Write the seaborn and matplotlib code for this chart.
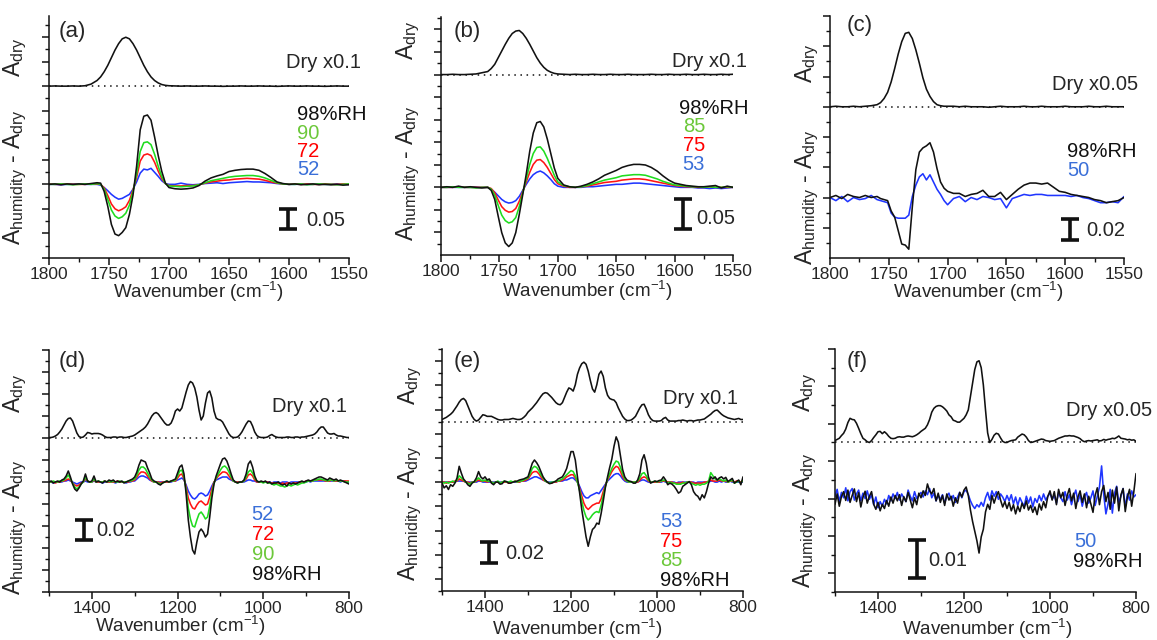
import numpy as np
import pandas as pd
import matplotlib
matplotlib.use("Agg")
import matplotlib.pyplot as plt
from matplotlib.ticker import MultipleLocator
import seaborn as sns

sns.set_theme(style="ticks")
plt.rcParams["font.family"] = ["Liberation Sans", "DejaVu Sans"]
plt.rcParams["axes.linewidth"] = 1.1

# ---------------------------------------------------------------- data
# All absorbance values in milli-absorbance units (mA); dry spectra are the
# scaled curves as displayed ("Dry x0.1" / "Dry x0.05").

# C=O region, 1800-1550 cm-1
WN_TOP = [1800, 1795, 1790, 1785, 1780, 1775, 1770, 1765,
          1760, 1757, 1754, 1751, 1748, 1745, 1742, 1739, 1736, 1733, 1730,
          1727, 1724, 1721, 1718, 1715, 1712, 1709, 1706, 1703, 1700,
          1695, 1690, 1685, 1680, 1675, 1670, 1665, 1660, 1655, 1650,
          1645, 1640, 1635, 1630, 1625, 1620, 1615, 1610, 1605, 1600,
          1595, 1590, 1585, 1580, 1575, 1570, 1565, 1560, 1555, 1550]

A_DRY = [0, 0.5, 0, 0, 0.5, 0, 1, 5,
         14, 23, 36, 52, 71, 90, 106, 118, 122, 118, 106,
         90, 71, 52, 36, 23, 14, 8, 4, 2, 1,
         0.5, 0, 0.5, 0, 0, 0.5, 0, 0, -0.5, 0,
         0, 0.5, 0, 0, 0.5, 0, 0, -0.5, 0, 0.5,
         0, 0, 0.5, 0, 0, -0.5, 0, 0.5, 0, 0]
A_98 = [0, 1, -1, 1, 0, 1, 0, 2,
        4, 3, -18, -55, -100, -124, -128, -120, -108, -75, -27,
        45, 136, 170, 173, 160, 118, 72, 32, 3, -8,
        -11, -12, -11, -9, -3, 8, 16, 21, 25, 32,
        35, 37, 38, 38, 35, 27, 17, 6, 2, 0,
        1, -1, 0, 1, -1, 0, -1, 0, -2, -1]
A_90 = [0, 0, 1, 0, -1, 0, 1, 0,
        2, 0, -12, -38, -64, -79, -85, -81, -72, -52, -18,
        25, 82, 104, 106, 99, 75, 45, 19, 2, -4,
        -5, -6, -5, -4, -1, 4, 9, 12, 15, 18,
        20, 21, 22, 22, 20, 16, 10, 4, 1, 0,
        0, 1, -1, 0, 1, 0, 0, -1, 0, 1]
A_72 = [1, 0, 0, 1, 0, 0, 0, 1,
        1, 0, -9, -28, -49, -61, -66, -62, -56, -40, -14,
        17, 58, 73, 76, 72, 55, 33, 14, 2, -3,
        -4, -4, -3, -3, -1, 3, 6, 8, 10, 11,
        13, 14, 15, 14, 13, 10, 6, 3, 1, 0,
        1, 0, 1, 0, 0, 1, 0, 0, 1, 0]
A_52 = [0, 0, -1, 0, 0, 1, 0, 0,
        0, -2, -8, -16, -25, -32, -37, -35, -30, -25, -12,
        6, 28, 38, 36, 40, 30, 20, 9, 2, 0,
        0, 3, 0, -1, 0, 2, 3, 4, 2, 4,
        5, 6, 7, 6, 6, 5, 4, 2, 1, 0,
        0, 1, 0, 0, 1, 0, 0, 1, 0, 0]

B_DRY = [0, 0, 0.5, 0, 0, 0.5, 1, 3,
         5, 10, 17, 28, 39, 50, 60, 68, 72, 73, 68,
         60, 50, 39, 28, 19, 12, 7, 4, 2, 1,
         0.5, 0, 0.5, 0, 0, 0.5, 0, 0, 0.5, 0,
         0, 0.5, 0, 0, 0, 0.5, 0, 0, 0.5, 0,
         0, 0.5, 0, 0, 0.5, 0, 0, 0.5, 0, 0.5]
B_98 = [0, 1, 0, 2, 0, 1, 0, -1,
        0, -5, -20, -48, -75, -92, -98, -92, -75, -45, -12,
        22, 60, 90, 107, 109, 100, 80, 56, 32, 15,
        4, 1, 0, 2, 5, 9, 14, 20, 24, 28,
        33, 36, 38, 38, 37, 33, 27, 19, 12, 7,
        5, 3, 2, 1, 1, 2, 3, -1, 2, 0]
B_85 = [0, 0, 1, 0, 0, 0, -1, 0,
        0, -3, -13, -30, -46, -55, -59, -57, -50, -32, -9,
        14, 38, 56, 66, 67, 60, 48, 34, 20, 9,
        3, 1, 0, 1, 3, 6, 9, 12, 14, 16,
        19, 20, 21, 21, 20, 17, 14, 10, 7, 4,
        3, 2, 1, 1, 0, 1, 0, 0, 1, 0]
B_75 = [0, 0, 0, 1, 0, 0, 0, 0,
        0, -2, -9, -21, -32, -38, -41, -40, -35, -23, -7,
        9, 25, 38, 45, 46, 41, 33, 23, 13, 6,
        2, 0, 0, 1, 2, 4, 6, 8, 9, 10,
        12, 13, 14, 14, 13, 11, 9, 7, 5, 3,
        2, 1, 1, 0, 0, 1, 0, 0, 0, 0]
B_53 = [0, 0, 0, 0, 0, 0, 0, 0,
        0, -3, -8, -14, -20, -24, -26, -25, -22, -15, -5,
        5, 14, 21, 25, 27, 24, 19, 13, 6, 2,
        0, 0, 0, 0, 1, 1, 2, 3, 4, 5,
        5, 6, 7, 7, 6, 5, 4, 3, 2, 1,
        0, 0, 0, -1, -1, -2, -1, -2, -1, 0]

C_DRY = [0, 0.5, 0, 0, 0.5, 0, 0.5, 1,
         2, 4, 8, 14, 24, 37, 51, 63, 71, 72, 66,
         55, 42, 28, 17, 10, 5, 2, 1, 0.5, 0.5,
         0.5, 0, 0.5, 0, 0, 0, -0.5, 0, 0.5, 0,
         0, 0, 0.5, 0, 0, 0.5, 0, 0, 0, 0.5,
         0, 0, 0, 0.5, 0, 0, 0.5, 0, 0, 0]
C_98 = [0, 2, -1, 3, 1, 0, 2, 0,
        1, -1, -2, -3, -13, -19, -32, -45, -46, -50, -9,
        27, 44, 48, 50, 53, 44, 28, 15, 9, 6,
        4, 4, 1, 3, 4, 7, 1, 1, 5, -2,
        3, 8, 12, 14, 14, 13, 14, 10, 6, 5,
        3, 2, 1, 0, -2, -3, -5, -4, -3, 0]
C_50 = [0, -3, 1, -4, 0, -2, -1, 2,
        -2, -3, -4, -5, -15, -19, -20, -20, -20, -17, 1,
        12, 20, 23, 17, 22, 15, 8, 3, -3, -7,
        -1, 1, -4, 0, -2, 1, 0, -2, -1, -10,
        -1, 1, 3, 2, 3, 3, 2, 2, 2, 2,
        1, 2, 0, -1, -3, -5, -5, -4, -5, 1]

# Fingerprint region, 1500-800 cm-1, sampled every 5 cm-1
WN_BOT = np.arange(1500, 799, -5)

D_DRY = [0.5, 0.5, 1, 2, 3.5, 6, 9, 13, 17, 19.5,
         20, 17, 11, 5, 1.5, 0.5, 1, 3, 5.5, 5,
         4, 4.5, 4.5, 4.5, 4, 3, 1.5, 0.5, 0.5, 0.5,
         1, 1, 0.5, 1, 1, 0.5, 0.5, 1, 1.5, 2,
         3, 4.5, 6, 7.5, 9, 11, 14, 18, 22, 24.5,
         25.5, 24, 21, 18, 15, 13, 13, 15, 20, 27,
         29, 27, 30, 38, 46, 53, 56.5, 55, 50, 41,
         28, 18, 22, 35, 45, 47, 40, 27, 20, 18.5,
         18, 16, 12, 8, 4, 1.5, 0.5, 0.5, 1, 3,
         6, 10, 14, 17, 16.5, 12, 6, 2.5, 1, 0.5,
         0.5, 0.5, 1, 2.5, 3.5, 2, 1, 0.5, 0.5, 0.5,
         0.5, 1, 1, 0.5, 0.5, 1, 1, 0.5, 1, 1,
         1.5, 2, 2.5, 3, 4, 6, 9, 11, 11, 8,
         5, 4, 4, 4.5, 3, 2, 2, 1.5, 1, 0.5,
         0.5]
D_98 = [0, 1, -1, 0, 1, 0, 2, 3, 6, 11,
        5, -2, -7, -9, -6, -2, 1, 8, 1, 0,
        1, 6, 0, 1, 0, -1, 1, 0, 2, 1,
        2, 0, 1, 0, 1, -1, 0, 1, 2, 3,
        5, 10, 17, 22, 21, 20, 14, 9, 3, 1,
        0, -2, -3, -1, 0, 1, 0, 1, 2, 3,
        9, 15, 17, 8, -12, -38, -55, -68, -72, -60,
        -50, -47, -50, -55, -52, -35, -16, -2, 6, 12,
        18, 23, 24, 21, 15, 8, 2, 0, -1, 0,
        0, 2, 8, 18, 21, 15, 6, 1, 0, 1,
        0, 1, -1, 0, -2, -1, -1, 0, -2, -3,
        -2, -4, -1, -2, -1, -2, -1, 0, 1, 0,
        1, 2, 1, 2, 3, 4, 5, 5, 4, 3,
        2, 4, 3, 2, 3, 1, 2, 1, 0, -1,
        -2]
D_90 = [0, 0, 1, 0, 0, 1, 1, 2, 4, 7,
        3, -1, -5, -7, -5, -2, 0, 5, 1, 0,
        0, 3, 0, 1, 0, 0, 1, 0, 1, 0,
        1, 0, 0, 1, 0, 0, 0, 1, 1, 2,
        3, 7, 12, 15, 15, 13, 9, 5, 2, 0,
        0, -1, -2, -1, 0, 1, 0, 1, 1, 2,
        6, 11, 12, 5, -8, -26, -37, -44, -45, -38,
        -32, -30, -33, -37, -35, -24, -11, -1, 4, 8,
        12, 15, 16, 14, 10, 5, 1, 0, -1, 0,
        0, 1, 5, 10, 12, 9, 4, 1, 0, 0,
        -1, 0, -1, -1, -2, -3, -2, -3, -4, -4,
        -5, -4, -3, -4, -3, -2, -3, -2, -1, -1,
        0, 1, 1, 1, 2, 2, 3, 3, 2, 2,
        1, 2, 2, 1, 2, 1, 1, 1, 0, 0,
        0]
D_72 = [0, 0, 0, -1, 0, 0, 1, 1, 2, 3,
        2, -1, -3, -4, -3, -1, 0, 3, 1, 0,
        0, 2, 0, 0, 0, 0, 1, 0, 0, 0,
        0, 0, 1, 0, 0, 0, 0, 0, 1, 1,
        2, 5, 8, 10, 10, 9, 6, 3, 1, 0,
        0, 0, -1, 0, 0, 0, 0, 1, 1, 1,
        4, 7, 8, 3, -5, -16, -22, -26, -27, -23,
        -20, -19, -21, -23, -22, -15, -7, 0, 3, 6,
        8, 10, 10, 9, 6, 3, 1, 0, 0, 0,
        0, 1, 3, 7, 8, 6, 2, 0, 0, 0,
        0, 0, 0, -1, -1, -1, -1, -1, -2, -1,
        -2, -1, -1, -2, -1, -1, -1, 0, 0, 0,
        1, 1, 1, 1, 2, 2, 2, 2, 2, 1,
        1, 1, 2, 1, 1, 1, 1, 1, 1, 1,
        1]
D_52 = [0, 0, -1, 0, 0, 0, 0, 1, 1, 2,
        1, 0, -1, -2, -1, 0, 0, 1, 0, 0,
        0, 1, 0, 0, 0, -1, 0, 0, 0, 0,
        0, -1, 0, 0, 0, 0, -1, 0, 0, 1,
        1, 3, 5, 6, 6, 5, 4, 2, 1, 0,
        0, 0, 0, 0, 0, 0, 0, 0, 1, 1,
        2, 3, 4, 2, -3, -9, -13, -16, -17, -15,
        -12, -11, -12, -14, -13, -9, -4, 0, 2, 3,
        4, 5, 5, 5, 3, 2, 1, 0, 0, 0,
        0, 0, 1, 2, 2, 1, 1, 0, 0, 0,
        0, 0, 0, 0, -1, 0, 0, 0, -1, 0,
        0, 0, -1, 0, 0, 0, 0, 0, 0, 0,
        0, 1, 0, 1, 1, 1, 1, 1, 1, 1,
        1, 1, 1, 1, 1, 1, 0, 1, 1, 0,
        0]

E_DRY = [2, 3, 4, 5.5, 7, 9, 12, 15, 18.5, 21,
         22, 20, 15, 10, 5, 2, 0.5, 1.5, 4, 6.5,
         6, 5, 5, 5, 4, 3, 2, 1.5, 1.5, 2,
         2, 2, 2.5, 3, 2.5, 2, 2, 2.5, 4, 6,
         9, 11, 13, 15.5, 18, 21, 24, 26.5, 27.5, 27,
         25, 23, 20.5, 18, 16.5, 16, 18, 23, 28, 32,
         31, 29, 35, 45, 51, 55, 56.5, 54.5, 48, 39,
         31, 28, 35, 45, 48, 43, 32, 25, 22, 21,
         20.5, 18, 13, 9, 5, 2.5, 1, 1, 1.5, 3,
         5, 9, 13, 16, 16.5, 12, 6.5, 3, 1, 0.5,
         0.5, 0.5, 1, 3, 4, 1.5, 0.5, 0.5, 0.5, 0.5,
         1, 1, 1.5, 1, 0.5, 1, 1, 0.5, 1, 1.5,
         1.5, 2, 2.5, 4, 5.5, 7, 9, 10.5, 11, 9,
         7, 5.5, 4.5, 3.5, 3, 2.5, 2, 2.5, 3, 2,
         2]
E_98 = [-1, -5.5, -3.5, -7, -2.5, -4, -1, 4, 15, 8.5,
        3, 0.5, -2.5, -4, -1, 0.5, 4, 10, 5, 3,
        5, 2, 3, -1, -2.5, 0, 0, -2, -1.5, 1,
        0.5, -1, -1, 0, 0.5, 1, 2, 2.5, 3, 4,
        5, 11.5, 18, 21, 18.5, 15, 10, 5, 2, 0,
        -1.5, -1, 0, 1, 3, 4, 5, 8.5, 13, 21,
        29, 29, 21, 5, -10, -26, -39, -52, -61, -52,
        -45, -43, -39, -40, -30, -18, -5, 5, 14, 22,
        34, 43, 38, 25, 12, 5, 2, 1, 0.5, -1,
        -1, 2, 8, 21, 26, 18, 5, -1, 0, 1,
        0.5, 1.5, 2, 5, 2, -2.5, -1, -2, -4, -7,
        -10.5, -9, -4, -2.5, -1, 0.5, -2.5, -9, -12, -13.5,
        -17, -12, -15, -9, -1, 5, 3, 5, 2, 4,
        5, 3, 4.5, 0.5, 2, 3.5, -1, 0.5, 2, -2.5,
        5]
E_85 = [0, -1, 0, -1, 0, 1, 0, 2, 6, 4,
        2, 0, -1, -2, 0, 0, 2, 4, 2, 1,
        2, 1, 1, 0, -1, 0, 1, -1, 0, 1,
        0, 0, 1, 0, 1, 0, 1, 1, 2, 3,
        4, 8, 13, 15, 14, 11, 7, 4, 1, 0,
        -1, 0, 0, 1, 1, 2, 3, 5, 7, 9,
        11, 10, 6, 0, -8, -18, -27, -33, -36, -34,
        -31, -29, -28, -29, -22, -13, -4, 3, 8, 13,
        17, 20, 19, 14, 8, 3, 1, 0, 0, 0,
        0, 1, 4, 8, 9, 6, 2, 0, 0, 1,
        0, 1, 1, 2, 1, -1, 0, -1, -1, -2,
        -2, -2, -1, -1, 0, 0, -1, -2, -3, -2,
        -3, -2, -2, -1, 1, 9, 6, 3, 2, 3,
        2, 1, 2, 0, 1, 2, -1, 0, 1, -1,
        2]
E_75 = [0, 0, -1, 0, 0, 0, 1, 1, 3, 2,
        1, 0, 0, -1, 0, 0, 1, 2, 1, 1,
        1, 0, 1, 0, -1, 0, 0, -1, 0, 0,
        0, -1, 0, 0, 1, 0, 0, 1, 1, 2,
        3, 6, 9, 10, 10, 8, 5, 2, 1, 0,
        -1, -1, 0, 0, 1, 1, 2, 3, 5, 6,
        7, 7, 4, 0, -6, -13, -20, -24, -26, -24,
        -22, -21, -20, -20, -16, -9, -3, 2, 6, 10,
        13, 15, 14, 10, 5, 2, 1, 0, 0, 0,
        0, 0, 2, 4, 5, 4, 1, 0, 0, 0,
        0, 0, 1, 1, 1, 0, 0, 0, -1, -1,
        -1, -1, 0, -1, 0, 0, 0, -1, -1, -1,
        -1, -1, 0, 0, 1, 2, 1, 1, 1, 2,
        1, 1, 1, 0, 1, 1, 0, 1, 1, 0,
        1]
E_53 = [0, 0, 0, 0, 0, 0, 0, 1, 1, 1,
        1, 0, 0, 0, 0, 0, 0, 1, 1, 0,
        0, 0, 0, 0, 0, 0, 0, 0, 0, 0,
        0, 0, 0, 0, 0, 0, 0, 1, 1, 1,
        2, 3, 4, 5, 5, 4, 3, 2, 1, 0,
        0, 0, 0, 0, 1, 1, 1, 2, 2, 3,
        4, 4, 2, 0, -4, -9, -13, -15, -15, -13,
        -12, -11, -10, -11, -8, -5, -2, 1, 3, 5,
        7, 8, 8, 6, 3, 1, 0, 0, 0, 0,
        0, 0, 1, 2, 2, 1, 0, 0, 0, 0,
        0, 0, 0, 1, 0, 0, 0, 0, 0, -1,
        0, 0, 0, 0, 0, 0, 0, 0, -1, 0,
        0, 0, 0, 0, 0, 1, 1, 0, 0, 1,
        0, 1, 0, 0, 1, 0, 0, 0, 0, 0,
        0]

F_DRY = [0.5, 0.8, 1.1, 1.8, 2.4, 3.5, 5.2, 6.3, 6.0, 5.9,
         5.0, 3.7, 2.3, 1.1, 0.7, 0.2, 0.0, 0.5, 1.3, 2.0,
         2.8, 2.9, 2.3, 2.8, 2.3, 1.6, 1.1, 1.0, 1.1, 1.4,
         1.5, 1.4, 1.4, 1.6, 1.7, 1.6, 1.5, 1.7, 2.0, 2.4,
         2.9, 3.3, 3.7, 4.6, 6.0, 7.9, 8.9, 9.4, 9.6, 9.6,
         9.3, 8.8, 8.2, 7.2, 6.7, 5.8, 5.6, 5.3, 5.3, 5.8,
         6.3, 7.2, 8.5, 12.0, 15.5, 19.0, 21.0, 21.3, 19.5, 15.0,
         8.5, 2.5, 0.0, 0.8, 1.9, 2.4, 2.2, 1.2, 0.3, 0.0,
         0.0, 0.3, 0.5, 0.6, 0.7, 1.4, 1.8, 2.2, 2.0, 1.4,
         0.5, 0.0, 0.1, 0.3, 0.5, 0.7, 0.9, 0.8, 0.5, 0.4,
         0.3, 0.4, 0.5, 0.8, 1.1, 1.3, 1.5, 1.7, 1.7, 1.8,
         1.7, 1.7, 1.5, 1.3, 1.0, 0.5, 0.2, 0.4, 0.5, 0.4,
         0.5, 0.6, 0.7, 0.4, 0.5, 0.8, 0.6, 0.8, 0.9, 1.1,
         1.0, 1.3, 1.7, 1.1, 1.0, 0.9, 0.7, 0.8, 0.6, 0.7,
         0.3]
F_98 = [-1.5, 1.2, -2.0, 0.5, 1.8, -0.5, 2.2, -1.0, 0.8, 2.5,
        -0.8, 1.5, -2.2, 0.3, 1.9, -1.2, 0.6, 1.8, -1.5, -2.8,
        -1.0, -3.2, -1.5, -2.6, -0.5, -2.0, 0.4, -1.2, 0.8, -0.6,
        1.0, -1.8, 0.5, -0.8, 1.6, -0.4, -2.4, 0.2, -1.6, 1.4,
        0.2, 2.0, 0.8, 3.8, 2.0, 1.2, 2.6, -0.6, 1.4, -1.0,
        0.8, -1.8, 1.2, -0.4, 0.6, -2.0, 0.2, -1.2, 1.6, 0.4,
        2.2, 3.0, 0.8, -3.0, -6.0, -8.5, -11.0, -14.2, -10.0, -8.0,
        -3.5, -1.5, -2.8, 0.8, -1.2, 0.6, 1.8, -0.4, -2.2, -0.8,
        -2.6, -1.0, -3.2, -1.6, -4.0, -2.0, -3.4, -1.2, -2.6, -0.6,
        -3.0, -1.8, -3.6, -2.2, -4.2, -1.4, -3.0, -0.8, -2.4, 0.6,
        2.0, -0.4, 1.8, -1.6, 2.4, 0.2, 1.6, -1.8, 0.8, 2.6,
        -0.6, 1.4, -2.6, 0.4, 2.0, -1.0, 1.2, -2.4, 0.6, -1.4,
        -3.6, 0.8, 2.8, -1.6, 1.8, 3.4, -0.8, 1.6, -2.8, 2.2,
        -1.2, 3.0, -3.2, 1.0, 2.6, -3.4, 0.4, 2.4, -2.0, 1.8,
        6.5]
F_50 = [0.5, 2.4, -0.8, 1.6, 0.2, 2.8, -0.6, 1.8, 2.6, -0.4,
        1.2, 2.2, -0.6, 1.4, 0.0, 2.0, -0.2, 1.0, -1.6, 0.4,
        -2.4, -0.8, -2.0, -0.2, -1.4, 0.8, -0.6, 1.2, 0.0, 1.6,
        -0.4, 1.2, 0.2, -0.8, 2.2, 0.6, -0.6, 1.8, 0.0, 0.8,
        1.6, 0.4, 2.0, 1.0, 2.6, 0.2, 1.4, -0.6, 0.8, -0.2,
        1.0, -1.2, 0.6, 1.4, -0.4, 0.8, -1.0, 0.4, 1.6, 0.2,
        1.8, 2.2, 1.0, -0.6, -1.8, -2.6, -1.6, -2.2, -1.0, -2.0,
        0.2, 1.6, -0.4, 2.0, 0.6, 1.8, -0.2, 1.2, 0.4, -0.8,
        0.8, -0.6, 1.0, -1.4, 0.4, -1.8, 0.2, -1.0, -2.0, 0.6,
        -1.2, 0.4, -2.2, 0.0, -1.0, 0.8, -0.6, 1.2, -0.4, 0.6,
        1.4, -0.2, 0.8, -1.2, 1.6, 0.2, -0.8, 1.8, -0.4, 1.0,
        -1.6, 0.6, 2.2, -0.8, 1.0, -2.0, 0.4, 1.6, -1.2, 0.2,
        2.0, -1.8, 0.6, 3.0, 8.5, 1.0, -4.0, -1.4, 2.4, -3.8,
        1.4, 3.2, -1.0, 0.6, 2.6, -2.2, 1.2, -0.4, 2.0, 0.4,
        1.0]

# ---------------------------------------------------------------- style
W, H = 1157, 640
BLACK = "#111111"
GREEN, GREEN_TXT = "#1fdc1f", "#6cc83a"
RED, RED_TXT = "#ff1414", "#ff0000"
BLUE, BLUE_TXT = "#2036ff", "#3a6fd8"
LW = 1.15

fig = plt.figure(figsize=(W / 100, H / 100), dpi=100)


def add_panel(x0, x1, ytop, ybot):
    return fig.add_axes([x0 / W, 1 - ybot / H, (x1 - x0) / W, (ybot - ytop) / H])


def px_to_data(ax, px, py):
    return ax.transData.inverted().transform((px, H - py))


def ftext(px, py, s, **kw):
    kw.setdefault("fontsize", 14.5)
    kw.setdefault("va", "center")
    fig.text(px / W, 1 - py / H, s, **kw)


def draw_panel(ax, wn, dry, traces, offset, xlim, ylim, xmaj, xmin, ystep):
    sns.lineplot(x=wn, y=np.asarray(dry, float) + offset, color=BLACK,
                 linewidth=LW, ax=ax, estimator=None)
    ax.axhline(offset, color=BLACK, linewidth=1.1, linestyle=(0, (1, 3)))
    for vals, col in traces:
        sns.lineplot(x=wn, y=vals, color=col, linewidth=LW, ax=ax,
                     estimator=None)
    ax.set_xlim(*xlim)
    ax.set_ylim(*ylim)
    sns.despine(ax=ax)
    ax.xaxis.set_major_locator(MultipleLocator(xmaj))
    ax.xaxis.set_minor_locator(MultipleLocator(xmin))
    ax.yaxis.set_major_locator(MultipleLocator(2 * ystep))
    ax.yaxis.set_minor_locator(MultipleLocator(ystep))
    ax.tick_params(axis="both", which="major", direction="out", length=5,
                   width=1.1, color=BLACK, labelsize=12.5, pad=1.5)
    ax.tick_params(axis="both", which="minor", direction="out", length=3,
                   width=1.0, color=BLACK)
    ax.tick_params(axis="y", labelleft=False)
    for sp in ("left", "bottom"):
        ax.spines[sp].set_color(BLACK)
    ax.set_xlabel("")
    ax.set_ylabel("")


def scale_bar(ax, px, py, value, label, lx, ly):
    xc, yc = px_to_data(ax, px, py)
    ax.errorbar([xc], [yc], yerr=value / 2, fmt="none", ecolor=BLACK,
                elinewidth=2.6, capsize=6.5, capthick=2.6)
    ftext(lx, ly, label, ha="left")


def axis_labels(xc, xl_base, yx, ydry_y, yhum_y):
    ftext(xc, xl_base, "Wavenumber (cm$\\mathregular{^{-1}}$)", ha="center",
          va="baseline", fontsize=13.5)
    ftext(yx, ydry_y, "$\\mathregular{A_{dry}}$", ha="center", rotation=90,
          fontsize=16.5)
    ftext(yx, yhum_y,
          "$\\mathregular{A_{humidity}}$ - $\\mathregular{A_{dry}}$",
          ha="center", rotation=90, fontsize=16.5)


# ---------------------------------------------------------------- (a)
ax = add_panel(49, 349, 16, 258)
draw_panel(ax, WN_TOP, A_DRY, [(A_52, BLUE), (A_72, RED), (A_90, GREEN),
                               (A_98, BLACK)],
           offset=245, xlim=(1800, 1550), ylim=(-183.75, 420),
           xmaj=50, xmin=25, ystep=30.625)
scale_bar(ax, 288, 219.3, 50, "0.05", 306, 220)
ftext(59, 31, "(a)", fontsize=16)
ftext(361, 63, "Dry x0.1", ha="right")
ftext(367, 115, "98%RH", ha="right", color=BLACK)
ftext(297, 133.3, "90", ha="left", color=GREEN_TXT)
ftext(297, 151.6, "72", ha="left", color=RED_TXT)
ftext(297, 169.9, "52", ha="left", color=BLUE_TXT)
axis_labels(198, 298, 15, 57, 177)

# ---------------------------------------------------------------- (b)
ax = add_panel(441, 733, 17, 255)
draw_panel(ax, WN_TOP, B_DRY, [(B_53, BLUE), (B_75, RED), (B_85, GREEN),
                               (B_98, BLACK)],
           offset=186.7, xlim=(1800, 1550), ylim=(-112, 282),
           xmaj=50, xmin=25, ystep=18.67)
scale_bar(ax, 683, 214.3, 50, "0.05", 696, 218.3)
ftext(454, 31, "(b)", fontsize=16)
ftext(747, 61.7, "Dry x0.1", ha="right")
ftext(748, 108.3, "98%RH", ha="right", color=BLACK)
ftext(682.7, 127, "85", ha="left", color=GREEN_TXT)
ftext(682.7, 145.5, "75", ha="left", color=RED_TXT)
ftext(682.7, 164, "53", ha="left", color=BLUE_TXT)
axis_labels(587, 297, 408, 40, 173)

# ---------------------------------------------------------------- (c)
ax = add_panel(830, 1124, 16, 258)
draw_panel(ax, WN_TOP, C_DRY, [(C_50, BLUE), (C_98, BLACK)],
           offset=87.8, xlim=(1800, 1550), ylim=(-58.5, 175.6),
           xmaj=50, xmin=25, ystep=14.63)
scale_bar(ax, 1070, 229.7, 20, "0.02", 1086.7, 230)
ftext(847, 25, "(c)", fontsize=16)
ftext(1138, 85, "Dry x0.05", ha="right")
ftext(1137, 151.7, "98%RH", ha="right", color=BLACK)
ftext(1067, 170, "50", ha="left", color=BLUE_TXT)
axis_labels(978, 298, 807, 63, 197)

# ---------------------------------------------------------------- (d)
ax = add_panel(49, 349, 350, 592)
draw_panel(ax, WN_BOT, D_DRY, [(D_52, BLUE), (D_72, RED), (D_90, GREEN),
                               (D_98, BLACK)],
           offset=44, xlim=(1500, 800), ylim=(-110, 132),
           xmaj=200, xmin=100, ystep=11)
scale_bar(ax, 84.3, 530, 20, "0.02", 96.7, 530)
ftext(59, 361.7, "(d)", fontsize=16)
ftext(347, 406.7, "Dry x0.1", ha="right")
ftext(251.7, 515, "52", ha="left", color=BLUE_TXT)
ftext(251.7, 535, "72", ha="left", color=RED_TXT)
ftext(251.7, 555, "90", ha="left", color=GREEN_TXT)
ftext(251.7, 575, "98%RH", ha="left", color=BLACK)
axis_labels(180, 632, 15, 393, 527)

# ---------------------------------------------------------------- (e)
ax = add_panel(442, 743, 349, 591)
draw_panel(ax, WN_BOT, E_DRY, [(E_53, BLUE), (E_75, RED), (E_85, GREEN),
                               (E_98, BLACK)],
           offset=57.5, xlim=(1500, 800), ylim=(-103.5, 126.5),
           xmaj=200, xmin=100, ystep=11.5)
scale_bar(ax, 489.3, 552.2, 20, "0.02", 505, 553.3)
ftext(454, 361.7, "(e)", fontsize=16)
ftext(738.3, 398.3, "Dry x0.1", ha="right")
ftext(660, 521.7, "53", ha="left", color=BLUE_TXT)
ftext(660, 541.7, "75", ha="left", color=RED_TXT)
ftext(660, 560, "85", ha="left", color=GREEN_TXT)
ftext(660, 580, "98%RH", ha="left", color=BLACK)
axis_labels(577, 635, 410, 385, 513)

# ---------------------------------------------------------------- (f)
ax = add_panel(835, 1136, 349, 592)
draw_panel(ax, WN_BOT, F_DRY, [(F_50, BLUE), (F_98, BLACK)],
           offset=14.6, xlim=(1500, 800), ylim=(-24.35, 38.96),
           xmaj=200, xmin=100, ystep=4.87)
scale_bar(ax, 916.7, 559.2, 10, "0.01", 928.3, 560)
ftext(847, 361.7, "(f)", fontsize=16)
ftext(1152, 410, "Dry x0.05", ha="right")
ftext(1074, 541.7, "50", ha="left", color=BLUE_TXT)
ftext(1073.3, 561.7, "98%RH", ha="left", color=BLACK)
axis_labels(987, 635, 805, 392, 520)

fig.savefig("out.png", dpi=100)
